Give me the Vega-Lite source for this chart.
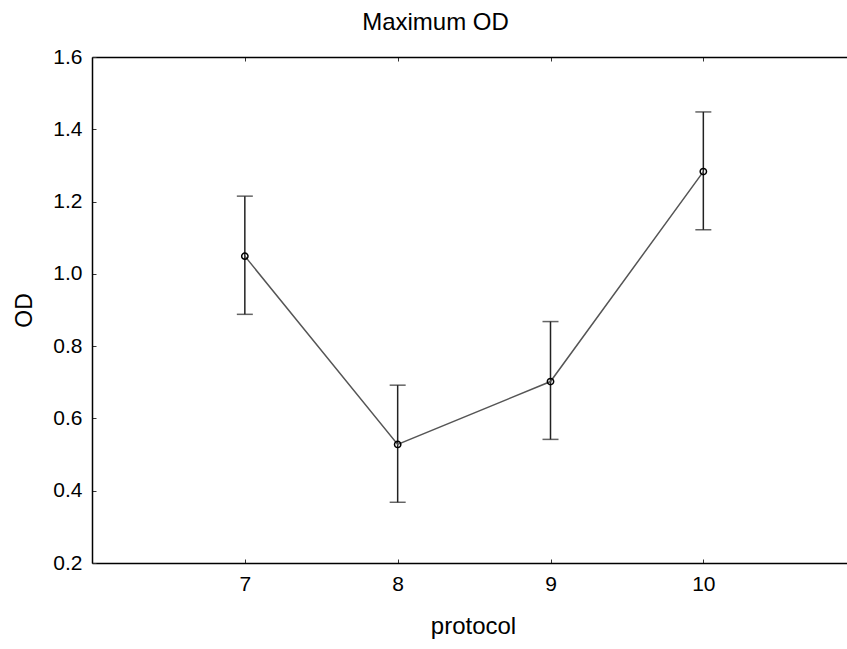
{
  "$schema": "https://vega.github.io/schema/vega-lite/v6.json",
  "width": 755,
  "height": 506,
  "autosize": {"type": "none"},
  "padding": {"left": 92, "top": 57, "right": 0, "bottom": 86},
  "title": {
    "text": "Maximum OD",
    "fontSize": 24,
    "fontWeight": "normal",
    "font": "Liberation Sans",
    "color": "black",
    "anchor": "middle",
    "frame": "group",
    "dx": -34,
    "baseline": "alphabetic",
    "offset": -8
  },
  "data": {
    "values": [
      {"protocol": 7, "od": 1.049, "lo": 0.888, "hi": 1.215},
      {"protocol": 8, "od": 0.528, "lo": 0.368, "hi": 0.692},
      {"protocol": 9, "od": 0.702, "lo": 0.542, "hi": 0.868},
      {"protocol": 10, "od": 1.283, "lo": 1.122, "hi": 1.448}
    ]
  },
  "config": {
    "view": {"stroke": null},
    "font": "Liberation Sans",
    "axis": {
      "grid": false,
      "domainColor": "black",
      "domainWidth": 1.5,
      "tickColor": "#333",
      "tickWidth": 1,
      "tickSize": -4,
      "labelFontSize": 21,
      "labelColor": "black",
      "labelFont": "Liberation Sans",
      "titleFont": "Liberation Sans",
      "titleFontSize": 23,
      "titleFontWeight": "normal",
      "titleColor": "black"
    }
  },
  "layer": [
    {
      "mark": {"type": "rule", "color": "#222", "strokeWidth": 1.5},
      "encoding": {
        "x": {
          "field": "protocol",
          "type": "quantitative",
          "title": "protocol",
          "scale": {"domain": [6, 10.94], "nice": false, "zero": false},
          "axis": {
            "orient": "bottom",
            "values": [7, 8, 9, 10],
            "format": "d",
            "labelFontSize": 21,
            "titleFontSize": 24,
            "labelPadding": 14,
            "titleX": 381,
            "titleY": 70,
            "titleBaseline": "alphabetic",
            "titleAlign": "center"
          }
        },
        "y": {
          "field": "lo",
          "type": "quantitative",
          "title": "OD",
          "scale": {"domain": [0.2, 1.6], "nice": false, "zero": false},
          "axis": {
            "values": [0.2, 0.4, 0.6, 0.8, 1.0, 1.2, 1.4, 1.6],
            "format": ".1f",
            "labelFontSize": 21,
            "titleFontSize": 23,
            "labelPadding": 14,
            "titleAngle": -90,
            "titleX": -68,
            "titleY": 253,
            "titleBaseline": "middle",
            "titleAlign": "center"
          }
        },
        "y2": {"field": "hi"}
      }
    },
    {
      "mark": {"type": "tick", "orient": "horizontal", "size": 16, "thickness": 1.5, "color": "#222"},
      "encoding": {
        "x": {"field": "protocol", "type": "quantitative", "axis": null},
        "y": {"field": "lo", "type": "quantitative", "title": "OD"}
      }
    },
    {
      "mark": {"type": "tick", "orient": "horizontal", "size": 16, "thickness": 1.5, "color": "#222"},
      "encoding": {
        "x": {"field": "protocol", "type": "quantitative", "axis": null},
        "y": {"field": "hi", "type": "quantitative", "title": "OD"}
      }
    },
    {
      "mark": {"type": "line", "color": "#555", "strokeWidth": 1.5},
      "encoding": {
        "x": {
          "field": "protocol",
          "type": "quantitative",
          "axis": {"orient": "top", "values": [7, 8, 9, 10], "labels": false, "title": null}
        },
        "y": {"field": "od", "type": "quantitative", "title": "OD"}
      }
    },
    {
      "mark": {"type": "point", "shape": "circle", "size": 40, "filled": false, "color": "black", "strokeWidth": 1.5, "opacity": 1},
      "encoding": {
        "x": {"field": "protocol", "type": "quantitative", "axis": null},
        "y": {"field": "od", "type": "quantitative", "title": "OD"}
      }
    }
  ],
  "resolve": {"axis": {"x": "independent"}}
}
